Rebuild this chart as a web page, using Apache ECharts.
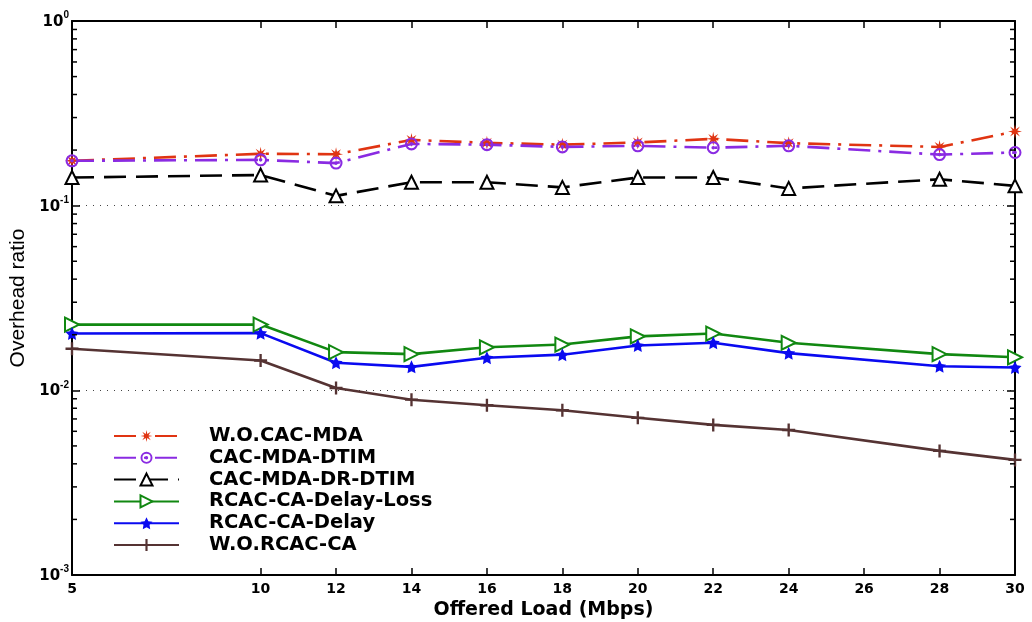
<!DOCTYPE html>
<html>
<head>
<meta charset="utf-8">
<script src="https://cdn.jsdelivr.net/npm/echarts@6/dist/echarts.min.js"></script>
<style>
html,body{margin:0;padding:0;background:#fff;}
#chart{width:1032px;height:622px;}
</style>
</head>
<body>
<div id="chart"></div>
<script>
// ---- data ----
const xValues = [5, 10, 12, 14, 16, 18, 20, 22, 24, 28, 30];
const xTickLabels = [5, 10, 12, 14, 16, 18, 20, 22, 24, 26, 28, 30];
const woCacMda      = [0.175, 0.191, 0.190, 0.227, 0.219, 0.214, 0.220, 0.230, 0.218, 0.208, 0.252];
const cacMdaDtim    = [0.175, 0.177, 0.170, 0.216, 0.214, 0.208, 0.211, 0.206, 0.211, 0.189, 0.194];
const cacMdaDrDtim  = [0.142, 0.1466, 0.113, 0.134, 0.134, 0.1256, 0.142, 0.142, 0.124, 0.139, 0.128];
const rcacDelayLoss = [0.0227, 0.0227, 0.0161, 0.0157, 0.0171, 0.0177, 0.0196, 0.0203, 0.0181, 0.0157, 0.0151];
const rcacDelay     = [0.0203, 0.0204, 0.0141, 0.0134, 0.0150, 0.0156, 0.0175, 0.0181, 0.0159, 0.0135, 0.0133];
const woRcacCa      = [0.0168, 0.0145, 0.0103, 0.0089, 0.0083, 0.0078, 0.0071, 0.0065, 0.0061, 0.0047, 0.0042];
const seriesNames = ['W.O.CAC-MDA', 'CAC-MDA-DTIM', 'CAC-MDA-DR-DTIM', 'RCAC-CA-Delay-Loss', 'RCAC-CA-Delay', 'W.O.RCAC-CA'];
const minorTickValues = [0.002,0.003,0.004,0.005,0.006,0.007,0.008,0.009,
                         0.02,0.03,0.04,0.05,0.06,0.07,0.08,0.09,
                         0.2,0.3,0.4,0.5,0.6,0.7,0.8,0.9];
const X_MIN = 5, X_MAX = 30, Y_MIN = 0.001, Y_MAX = 1;

// ---- symbol shapes ----
function starPath(n, ro, ri) {
  let d = '';
  for (let i = 0; i < 2 * n; i++) {
    const r = i % 2 === 0 ? ro : ri;
    const a = Math.PI * i / n - Math.PI / 2;
    d += (i === 0 ? 'M' : 'L') + (r * Math.cos(a)).toFixed(2) + ',' + (r * Math.sin(a)).toFixed(2) + ' ';
  }
  return 'path://' + d + 'Z';
}
const asteriskSym = starPath(8, 10, 3.6);
const starSym = starPath(5, 10, 5);
const plusSym = 'path://M-1.8,-10 L1.8,-10 L1.8,-1.8 L10,-1.8 L10,1.8 L1.8,1.8 L1.8,10 L-1.8,10 L-1.8,1.8 L-10,1.8 L-10,-1.8 L-1.8,-1.8 Z';
const ringDotSym = 'path://M0,-10 A10,10 0 1,1 0,10 A10,10 0 1,1 0,-10 Z M0,-6.8 A6.8,6.8 0 1,0 0,6.8 A6.8,6.8 0 1,0 0,-6.8 Z M0,-2.8 A2.8,2.8 0 1,1 0,2.8 A2.8,2.8 0 1,1 0,-2.8 Z';

const FONT = 'Liberation Sans, Arial, sans-serif';
const WFONT = 'DejaVu Sans, Verdana, sans-serif';

function mk(name, vals, color, dash, symbol, size, extra) {
  return Object.assign({
    name: name,
    type: 'line',
    data: xValues.map((x, i) => [x, vals[i]]),
    symbol: symbol,
    symbolSize: size,
    showAllSymbol: true,
    lineStyle: { color: color, width: 2.6, type: dash },
    itemStyle: { color: color, borderColor: color, borderWidth: 0 },
    emphasis: { disabled: true },
    z: 3
  }, extra || {});
}

const series = [
  mk(seriesNames[0], woCacMda, '#E03412', [22, 8, 3, 8], asteriskSym, 14),
  mk(seriesNames[1], cacMdaDtim, '#8A2BE2', [22, 8, 3, 8], ringDotSym, 13),
  mk(seriesNames[2], cacMdaDrDtim, '#000000', [22, 10], 'emptyTriangle', 13,
     { itemStyle: { color: '#000', borderColor: '#000', borderWidth: 2.2 } }),
  mk(seriesNames[3], rcacDelayLoss, '#118811', 'solid', 'emptyTriangle', 14,
     { symbolRotate: -90, itemStyle: { color: '#118811', borderColor: '#118811', borderWidth: 2.2 } }),
  mk(seriesNames[4], rcacDelay, '#0A0AF0', 'solid', starSym, 13),
  mk(seriesNames[5], woRcacCa, '#553333', 'solid', plusSym, 13),
  {
    name: 'minorTicks',
    type: 'custom',
    silent: true,
    clip: false,
    z: 5,
    data: minorTickValues.map(v => [X_MIN, v]),
    encode: { x: 0, y: 1 },
    renderItem: function (params, api) {
      const v = api.value(1);
      const pl = api.coord([X_MIN, v]);
      const pr = api.coord([X_MAX, v]);
      return {
        type: 'group',
        children: [
          { type: 'line', shape: { x1: pl[0], y1: pl[1], x2: pl[0] + 5, y2: pl[1] }, style: { stroke: '#000', lineWidth: 1.5 } },
          { type: 'line', shape: { x1: pr[0], y1: pr[1], x2: pr[0] - 5, y2: pr[1] }, style: { stroke: '#000', lineWidth: 1.5 } }
        ]
      };
    }
  }
];

const xTickStyle = { show: true, inside: true, length: 7, lineStyle: { color: '#000', width: 1.5 }, customValues: xTickLabels };
const yTickStyle = { show: true, inside: true, length: 8, lineStyle: { color: '#000', width: 1.5 } };

const option = {
  animation: false,
  backgroundColor: '#fff',
  grid: { left: 72, right: 17, top: 21, bottom: 47, containLabel: false, outerBoundsMode: 'none' },
  legend: {
    orient: 'vertical',
    left: 108,
    top: 421,
    data: seriesNames,
    itemWidth: 65,
    itemHeight: 15,
    itemGap: 1.8,
    textStyle: { fontSize: 19.5, fontWeight: 'bold', fontFamily: WFONT, color: '#000', lineHeight: 16, padding: [0, 0, 0, 25] },
    selectedMode: false
  },
  xAxis: [
    {
      type: 'value', min: X_MIN, max: X_MAX, interval: 1,
      position: 'bottom',
      axisLine: { show: true, onZero: false, lineStyle: { color: '#000', width: 2 } },
      axisTick: xTickStyle,
      axisLabel: { show: true, customValues: xTickLabels, margin: 7, fontSize: 14, fontWeight: 'bold', fontFamily: WFONT, color: '#000' },
      splitLine: { show: false },
      name: 'Offered Load (Mbps)',
      nameLocation: 'middle',
      nameGap: 21,
      nameTextStyle: { fontSize: 19, fontWeight: 'bold', fontFamily: WFONT, color: '#000' }
    },
    {
      type: 'value', min: X_MIN, max: X_MAX, interval: 1,
      position: 'top',
      axisLine: { show: true, onZero: false, lineStyle: { color: '#000', width: 2 } },
      axisTick: xTickStyle,
      axisLabel: { show: false },
      splitLine: { show: false }
    }
  ],
  yAxis: [
    {
      type: 'log', logBase: 10, min: Y_MIN, max: Y_MAX,
      position: 'left',
      axisLine: { show: true, onZero: false, lineStyle: { color: '#000', width: 2 } },
      axisTick: yTickStyle,
      minorTick: { show: false },
      axisLabel: {
        margin: 3,
        fontSize: 15,
        fontWeight: 'bold',
        fontFamily: WFONT,
        color: '#000',
        formatter: function (v) {
          const e = Math.round(Math.log10(v));
          return '{b|10}{s|' + e + '}';
        },
        rich: {
          b: { fontSize: 15, fontWeight: 'bold', fontFamily: WFONT, color: '#000', lineHeight: 17, verticalAlign: 'bottom' },
          s: { fontSize: 10, fontWeight: 'bold', fontFamily: FONT, color: '#000', lineHeight: 10, verticalAlign: 'bottom', padding: [0, 0, 9, 0] }
        }
      },
      splitLine: { show: true, lineStyle: { color: '#444', width: 1, type: [1, 6] } },
      name: 'Overhead ratio',
      nameLocation: 'middle',
      nameRotate: 90,
      nameGap: 41,
      nameTextStyle: { fontSize: 21, fontFamily: FONT, color: '#000' }
    },
    {
      type: 'log', logBase: 10, min: Y_MIN, max: Y_MAX,
      position: 'right',
      axisLine: { show: true, onZero: false, lineStyle: { color: '#000', width: 2 } },
      axisTick: yTickStyle,
      axisLabel: { show: false },
      splitLine: { show: false }
    }
  ],
  series: series
};

const chart = echarts.init(document.getElementById('chart'), null, { renderer: 'canvas' });
chart.setOption(option);
</script>
</body>
</html>
